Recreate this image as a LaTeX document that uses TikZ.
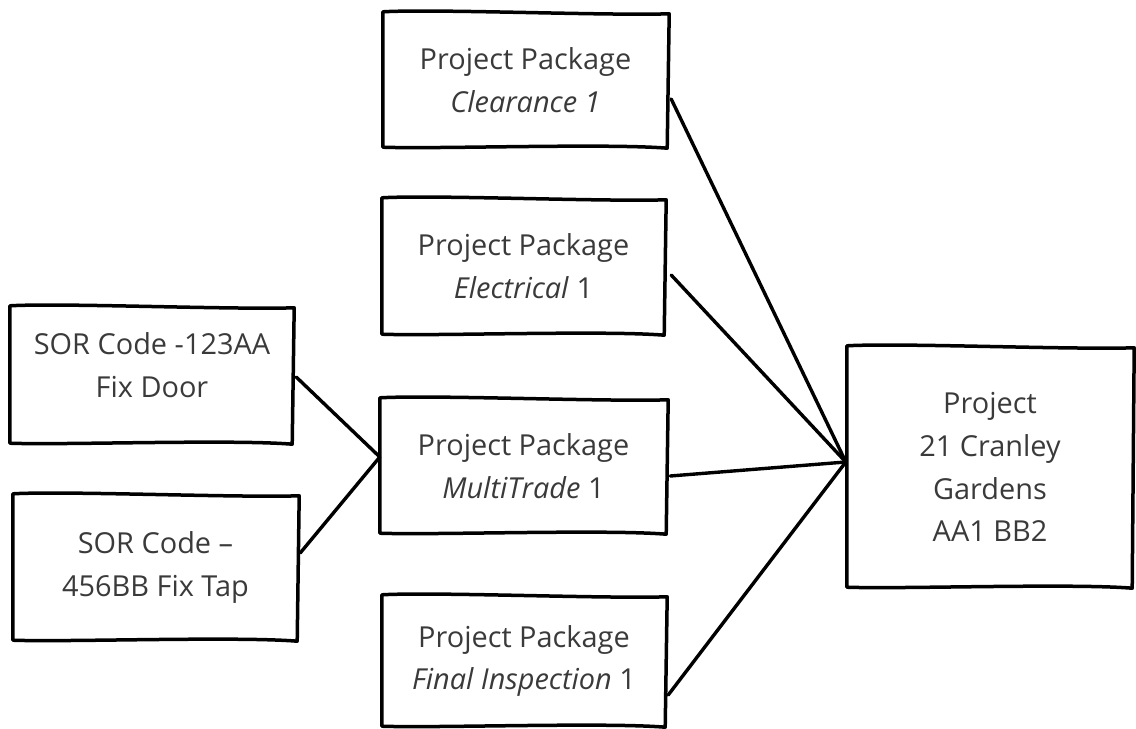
\documentclass[tikz,border=0pt]{standalone}
\usepackage{fontspec}
\setmainfont{Open Sans}
\definecolor{inkgray}{HTML}{3A3A3A}
\tikzset{
  pkgbox/.style={inner sep=0pt, align=center, text=inkgray, font=\fontsize{29}{43}\selectfont},
  sketch/.style={line width=3.5bp, line join=round},
  link/.style={line width=3.4bp, line cap=round}
}
% hand drawn outline round a node
\newcommand{\sketchbox}[1]{%
  \draw[sketch] ([shift={(0,-1)}]#1.north west)
    .. controls ([shift={(-90,-4)}]#1.north) and ([shift={(80,3)}]#1.north) .. ([shift={(1,1)}]#1.north east)
    -- ([shift={(-1,1)}]#1.south east)
    .. controls ([shift={(80,-4)}]#1.south) and ([shift={(-90,2)}]#1.south) .. (#1.south west)
    -- cycle;}

\begin{document}
\begin{tikzpicture}[x=1bp,y=-1bp]
\useasboundingbox (0,0) rectangle (1136,729);

% packages
\node[pkgbox, minimum width=285bp, minimum height=134bp] (clear) at (525.5,80) {Project Package\\\textit{Clearance 1}};
\node[pkgbox, minimum width=283bp, minimum height=135bp] (elec) at (523.5,266.5) {Project Package\\\textit{Electrical} 1};
\node[pkgbox, minimum width=287bp, minimum height=134bp] (multi) at (523.5,466) {Project Package\\\textit{MultiTrade} 1};
\node[pkgbox, minimum width=284bp, minimum height=130bp] (final) at (524,661) {Project Package\\\textit{Final Inspection} 1};

% SOR codes
\node[pkgbox, minimum width=283bp, minimum height=136bp] (sor1) at (151.5,375) {};
\node[pkgbox] (sor1txt) at (152,365) {SOR Code -123AA\\Fix Door};
\node[pkgbox, minimum width=285bp, minimum height=145bp] (sor2) at (155.5,567.5) {SOR Code --\\456BB Fix Tap};

% project
\node[pkgbox, minimum width=286bp, minimum height=240bp] (proj) at (990,467) {Project\\21 Cranley\\Gardens\\AA1 BB2};

% outlines
\foreach \b in {clear,elec,multi,final,sor1,sor2,proj}
  \sketchbox{\b};

\draw[link] ([shift={(3,19)}]clear.east) -- ([shift={(-1,-5)}]proj.west);
\draw[link] ([shift={(6,8.5)}]elec.east) -- ([shift={(-1,-5)}]proj.west);
\draw[link] ([shift={(3,10)}]multi.east) -- ([shift={(-1,-5)}]proj.west);
\draw[link] ([shift={(2,34)}]final.east) -- ([shift={(-1,-5)}]proj.west);

\draw[link] ([shift={(3,2)}]sor1.east) -- ([shift={(0,-9)}]multi.west);
\draw[link] ([shift={(2,-14.5)}]sor2.east) -- ([shift={(0,-9)}]multi.west);
\end{tikzpicture}
\end{document}
